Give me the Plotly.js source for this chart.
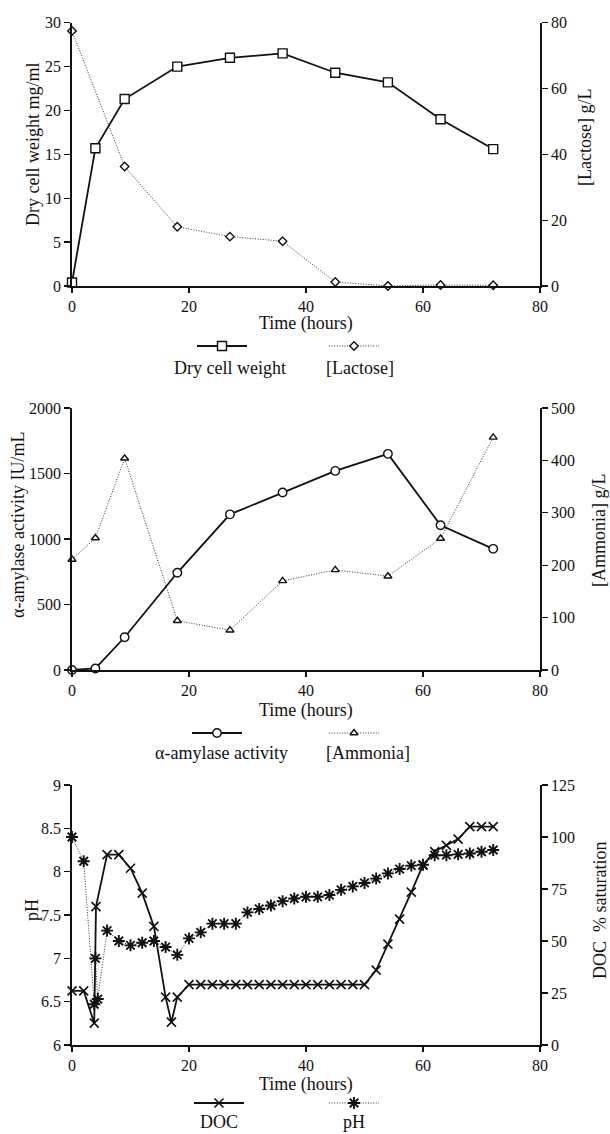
<!DOCTYPE html>
<html>
<head>
<meta charset="utf-8">
<script src="https://cdn.plot.ly/plotly-3.0.1.min.js"></script>
<style>html,body{margin:0;padding:0;background:#fff}#chart{width:610px;height:1134px}</style>
</head>
<body>
<div id="chart"></div>
<script>
// ---------------- DATA ----------------
// Panel 1
const timeP1 = [0, 4, 9, 18, 27, 36, 45, 54, 63, 72];
const dryCellWeight = [0.4, 15.7, 21.3, 25.0, 26.0, 26.5, 24.3, 23.2, 19.0, 15.6];
const lactoseTime = [0, 9, 18, 27, 36, 45, 54, 63, 72];
const lactose = [77.5, 36.3, 18.0, 15.0, 13.6, 1.2, 0, 0.3, 0.2];
// Panel 2
const timeP2 = [0, 4, 9, 18, 27, 36, 45, 54, 63, 72];
const amylase = [0, 12, 250, 742, 1188, 1355, 1520, 1650, 1105, 925];
const ammonia = [211, 252, 404, 94, 76, 170, 191, 179, 251, 444];
// Panel 3
const docTime = [0, 2, 3.8, 4.1, 6, 8, 10, 12, 14, 16, 17, 18, 20, 22, 24, 26, 28, 30, 32, 34, 36, 38, 40, 42, 44, 46, 48, 50, 52, 54, 56, 58, 60, 62, 64, 66, 68, 70, 72];
const docSat = [26, 26, 10.5, 66.5, 91.5, 91.5, 85, 73, 57, 23, 11, 23, 29, 29, 29, 29, 29, 29, 29, 29, 29, 29, 29, 29, 29, 29, 29, 29, 36, 48.5, 60.5, 73.5, 86.5, 93, 96, 99, 105, 105, 105];
const phTime = [0, 2, 3.8, 4.0, 4.4, 6, 8, 10, 12, 14, 16, 18, 20, 22, 24, 26, 28, 30, 32, 34, 36, 38, 40, 42, 44, 46, 48, 50, 52, 54, 56, 58, 60, 62, 64, 66, 68, 70, 72];
const phVal = [8.40, 8.12, 6.47, 7.00, 6.53, 7.32, 7.20, 7.15, 7.18, 7.20, 7.13, 7.04, 7.23, 7.30, 7.40, 7.40, 7.40, 7.53, 7.57, 7.61, 7.66, 7.69, 7.71, 7.71, 7.73, 7.79, 7.83, 7.87, 7.92, 7.98, 8.03, 8.07, 8.08, 8.19, 8.19, 8.20, 8.21, 8.23, 8.25];
// Tick labels / titles
const xTicks = [0, 20, 40, 60, 80];
const xTitle = "Time (hours)";
const yTitles = ["Dry cell weight mg/ml", "[Lactose] g/L", "\u03b1-amylase activity IU/mL", "[Ammonia] g/L", "pH", "DOC  % saturation"];
const legendLabels = ["Dry cell weight", "[Lactose]", "\u03b1-amylase activity", "[Ammonia]", "DOC", "pH"];

// ---------------- LAYOUT HELPERS ----------------
const W = 610, H = 1134;
const px = x => x / W;
const py = y => 1 - y / H;
const XL = 72, XR = 540;
const panels = [ {top: 22.7, bot: 286}, {top: 408, bot: 670}, {top: 785, bot: 1045} ];
const FONT = 'Liberation Serif, "Times New Roman", Times, serif';
const INK = '#111';

function xAxis(anchor) {
  return {domain: [px(XL), px(XR)], anchor: anchor, range: [0, 80], tickvals: xTicks,
    ticks: 'outside', ticklen: 5, tickwidth: 1.3, tickcolor: INK, showline: true, linecolor: INK, linewidth: 1.8,
    showgrid: false, zeroline: false, tickfont: {size: 16, family: FONT, color: INK}, fixedrange: true};
}
function yLeft(p, range, dtick, anchor) {
  return {domain: [py(p.bot), py(p.top)], anchor: anchor, range: range, dtick: dtick, tick0: range[0],
    ticks: 'outside', ticklen: 6, tickwidth: 1.3, tickcolor: INK, showline: true, linecolor: INK, linewidth: 1.8,
    showgrid: false, zeroline: false, tickfont: {size: 16, family: FONT, color: INK}, fixedrange: true};
}
function yRight(over, anchor, range, dtick) {
  return {overlaying: over, side: 'right', anchor: anchor, range: range, dtick: dtick, tick0: range[0],
    ticks: 'outside', ticklen: 6, tickwidth: 1.3, tickcolor: INK, showline: true, linecolor: INK, linewidth: 1.8,
    showgrid: false, zeroline: false, tickfont: {size: 16, family: FONT, color: INK}, fixedrange: true};
}

const solid = {color: INK, width: 1.8};
const dotted = {color: '#333', width: 1, dash: '1px,1.6px'};
const openMarker = (symbol, size) => ({symbol: symbol, size: size, color: '#fff', line: {color: INK, width: 1.4}});
const xMarker = {symbol: 'x-thin-open', size: 9, color: INK, line: {color: INK, width: 1.6}};
const starMarker = {symbol: 'asterisk-open', size: 10, color: INK, line: {color: INK, width: 1.9}};

const traces = [
  // Panel 1
  {x: timeP1, y: dryCellWeight, xaxis: 'x', yaxis: 'y', mode: 'lines+markers', line: solid, marker: openMarker('square', 9), cliponaxis: false},
  {x: lactoseTime, y: lactose, xaxis: 'x', yaxis: 'y2', mode: 'lines+markers', line: dotted, marker: openMarker('diamond', 6.5), cliponaxis: false},
  // Panel 2
  {x: timeP2, y: amylase, xaxis: 'x2', yaxis: 'y3', mode: 'lines+markers', line: solid, marker: openMarker('circle', 8.5), cliponaxis: false},
  {x: timeP2, y: ammonia, xaxis: 'x2', yaxis: 'y4', mode: 'lines+markers', line: dotted, marker: openMarker('triangle-up', 7), cliponaxis: false},
  // Panel 3
  {x: docTime, y: docSat, xaxis: 'x3', yaxis: 'y6', mode: 'lines+markers', line: solid, marker: xMarker, cliponaxis: false},
  {x: phTime, y: phVal, xaxis: 'x3', yaxis: 'y5', mode: 'lines+markers', line: dotted, marker: starMarker, cliponaxis: false}
];

// Legend samples (drawn on a hidden pixel-space axis)
const legendSpec = [
  {cx: 222, y: 346, line: solid, marker: openMarker('square', 9)},
  {cx: 354, y: 346, line: dotted, marker: openMarker('diamond', 6.5)},
  {cx: 217, y: 733, line: solid, marker: openMarker('circle', 8.5)},
  {cx: 354, y: 733, line: dotted, marker: openMarker('triangle-up', 7)},
  {cx: 219, y: 1103, line: solid, marker: xMarker},
  {cx: 354, y: 1103, line: dotted, marker: starMarker}
];
legendSpec.forEach(s => {
  traces.push({x: [s.cx - 25, s.cx + 25], y: [s.y, s.y], xaxis: 'x4', yaxis: 'y7', mode: 'lines', line: s.line, hoverinfo: 'skip'});
  traces.push({x: [s.cx], y: [s.y], xaxis: 'x4', yaxis: 'y7', mode: 'markers', marker: s.marker, hoverinfo: 'skip'});
});

const legendTextPos = [[230, 368], [360, 368], [221, 753], [368, 753], [219, 1122], [354, 1122]];
const annotations = [];
legendLabels.forEach((t, i) => annotations.push({text: t, x: px(legendTextPos[i][0]), y: py(legendTextPos[i][1]),
  xref: 'paper', yref: 'paper', showarrow: false, xanchor: 'center', yanchor: 'middle', font: {size: 18, family: FONT, color: INK}}));
// x titles
[323, 710, 1084].forEach(y => annotations.push({text: xTitle, x: px(306), y: py(y), xref: 'paper', yref: 'paper',
  showarrow: false, xanchor: 'center', yanchor: 'middle', font: {size: 18, family: FONT, color: INK}}));
// y titles
const yTitlePos = [[33, 145], [585, 138], [18, 525], [599, 531], [32, 910], [600, 911]];
yTitles.forEach((t, i) => annotations.push({text: t, x: px(yTitlePos[i][0]), y: py(yTitlePos[i][1]), xref: 'paper', yref: 'paper',
  showarrow: false, xanchor: 'center', yanchor: 'middle', textangle: -90, font: {size: 18, family: FONT, color: INK}}));

const layout = {
  width: W, height: H, margin: {l: 0, r: 0, t: 0, b: 0}, showlegend: false,
  paper_bgcolor: '#fff', plot_bgcolor: 'rgba(0,0,0,0)', font: {family: FONT, size: 16, color: INK},
  xaxis: xAxis('y'),
  yaxis: yLeft(panels[0], [0, 30], 5, 'x'),
  yaxis2: yRight('y', 'x', [0, 80], 20),
  xaxis2: xAxis('y3'),
  yaxis3: Object.assign(yLeft(panels[1], [0, 2000], 500, 'x2'), {tickformat: 'd'}),
  yaxis4: yRight('y3', 'x2', [0, 500], 100),
  xaxis3: xAxis('y5'),
  yaxis5: yLeft(panels[2], [6, 9], 0.5, 'x3'),
  yaxis6: yRight('y5', 'x3', [0, 125], 25),
  xaxis4: {domain: [0, 1], range: [0, W], visible: false, fixedrange: true, anchor: 'y7'},
  yaxis7: {domain: [0, 1], range: [H, 0], visible: false, fixedrange: true, anchor: 'x4'},
  annotations: annotations
};

Plotly.newPlot('chart', traces, layout, {staticPlot: true, displayModeBar: false});
</script>
</body>
</html>
